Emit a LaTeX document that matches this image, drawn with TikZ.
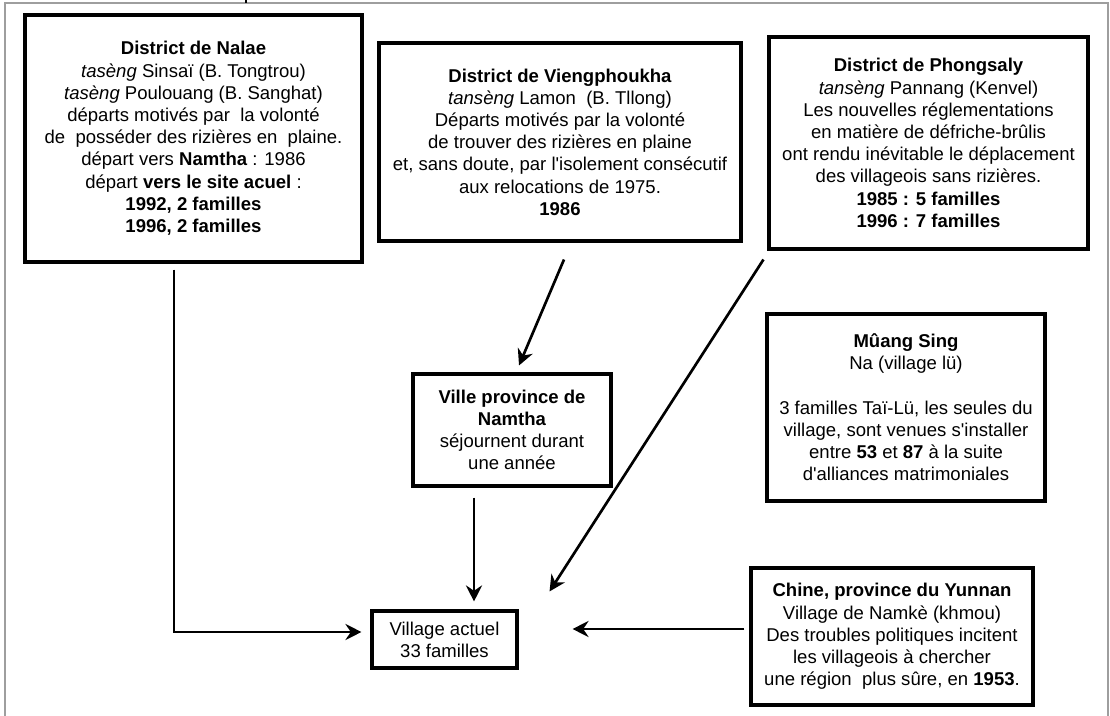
\documentclass[tikz,border=0pt]{standalone}
\usepackage{fontspec}
\setmainfont{Liberation Sans}
\usetikzlibrary{arrows.meta,calc}
\newcommand\ap{\textquotesingle}
\begin{document}
\begin{tikzpicture}[x=0.75pt,y=-0.75pt,
  box/.style={draw, line width=2.3pt, align=center, inner sep=0pt,
    font=\fontsize{13.9}{16.65}\selectfont},
  arr/.style={line width=2pt, -{Stealth[length=12pt,width=12pt,inset=4pt]}},
  frame/.style={draw=black!38, line width=1pt}]
\useasboundingbox (0,0) rectangle (1110,716);
% outer frame
\draw[frame] (5,716) -- (5,3) -- (1108,3) -- (1108,716);
\draw[line width=0.8pt] (246,0) -- (246,3);

\node[box, minimum width=252.75pt, minimum height=185.25pt] (nalae) at (193.5,138.5)
{\textbf{District de Nalae}\\
\textit{tasèng} Sinsaï (B. Tongtrou)\\
\textit{tasèng} Poulouang (B. Sanghat)\\
départs motivés par\ \ la volonté\\
de\ \ posséder des rizières en\ \ plaine.\\
départ vers \textbf{Namtha} : 1986\\
départ \textbf{vers le site acuel} :\\
\textbf{1992, 2 familles}\\
\textbf{1996, 2 familles}};

\node[box, minimum width=271.5pt, minimum height=148.5pt] (vieng) at (560,142)
{\textbf{District de Viengphoukha}\\
\textit{tansèng} Lamon\ \ (B. Tllong)\\
Départs motivés par la volonté\\
de trouver des rizières en plaine\\
et, sans doute, par l\ap isolement consécutif\\
aux relocations de 1975.\\
\textbf{1986}};

\node[box, minimum width=239.25pt, minimum height=159pt] (phong) at (928.5,143)
{\textbf{District de Phongsaly}\\
\textit{tansèng} Pannang (Kenvel)\\
Les nouvelles réglementations\\
en matière de défriche-brûlis\\
ont rendu inévitable le déplacement\\
des villageois sans rizières.\\
\textbf{1985 : 5 familles}\\
\textbf{1996 : 7 familles}};

\node[box, minimum width=208.5pt, minimum height=140.25pt] (muang) at (906,407.5)
{\textbf{Mûang Sing}\\
Na (village lü)\\
\mbox{}\\
3 familles Taï-Lü, les seules du\\
village, sont venues s\ap installer\\
entre \textbf{53} et \textbf{87} à la suite\\
d\ap alliances matrimoniales};

\node[box, minimum width=148.5pt, minimum height=84pt] (ville) at (512,430)
{\textbf{Ville province de}\\
\textbf{Namtha}\\
séjournent durant\\
une année};

\node[box, minimum width=108.75pt, minimum height=42.75pt] (village) at (444.5,639.5)
{Village actuel\\33 familles};

\node[box, minimum width=211.5pt, minimum height=102.75pt] (chine) at (892,636.5)
{\textbf{Chine, province du Yunnan}\\
Village de Namkè (khmou)\\
Des troubles politiques incitent\\
les villageois à chercher\\
une région\ \ plus sûre, en \textbf{1953}.};

% connectors
\draw[arr] ($(nalae.south)+(-19.5,6)$) |- ($(village.west)+(-9,-7.5)$);
\draw[arr] ($(vieng.south)+(4,17)$) -- ($(ville.north)+(7,-7)$);
\draw[arr] ($(phong.south west)+(-4,9)$) -- ($(village.north east)+(31,-18)$);
\draw[arr] ($(ville.south)+(-38,10)$) -- ($(village.north)+(29.5,-8)$);
\draw[arr] ($(chine.west)+(-5,-7.5)$) -- ($(village.east)+(54,-10.5)$);
\end{tikzpicture}
\end{document}
